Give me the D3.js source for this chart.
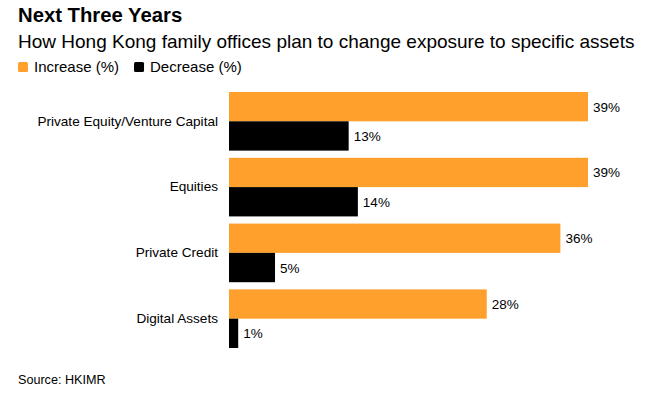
<!DOCTYPE html>
<html><head><meta charset="utf-8">
<script src="https://cdn.jsdelivr.net/npm/d3@7"></script>
<style>body{margin:0;background:#fff;font-family:"Liberation Sans",Arial,sans-serif;}</style>
</head><body>
<svg id="c" width="655" height="396"></svg>
<script>
const categories = ["Private Equity/Venture Capital","Equities","Private Credit","Digital Assets"];
const increase = [39,39,36,28];
const decrease = [13,14,5,1];
const seriesNames = ["Increase (%)","Decrease (%)"];
const colors = ["#ffa02c","#000000"];

const svg = d3.select("#c");
svg.append("text").attr("x",18).attr("y",22).attr("font-size",20.3).attr("font-weight","bold").attr("fill","#000").text("Next Three Years");
svg.append("text").attr("x",18).attr("y",48).attr("font-size",19).attr("fill","#000").text("How Hong Kong family offices plan to change exposure to specific assets");

const leg = svg.append("g");
let lx = 18;
seriesNames.forEach((n,i)=>{
  leg.append("rect").attr("x",lx).attr("y",62).attr("width",10).attr("height",10).attr("rx",1.5).attr("fill",colors[i]);
  const t = leg.append("text").attr("x",lx+16).attr("y",72).attr("font-size",15).attr("fill","#000").text(n);
  lx += 16 + t.node().getComputedTextLength() + 15;
});

const x = d3.scaleLinear().domain([0,39]).range([229,588]);
const y = d3.scaleBand().domain(categories).range([92,348]).paddingInner(0.109).paddingOuter(0);
const sub = d3.scaleBand().domain(["inc","dec"]).range([0,y.bandwidth()]);

const data = categories.map((c,i)=>({c, vals:[{k:"inc",v:increase[i],col:colors[0]},{k:"dec",v:decrease[i],col:colors[1]}]}));
const g = svg.append("g");
const grp = g.selectAll("g").data(data).join("g").attr("transform",d=>`translate(0,${y(d.c)})`);
grp.selectAll("rect").data(d=>d.vals).join("rect")
  .attr("x",x(0)).attr("y",d=>sub(d.k)).attr("width",d=>x(d.v)-x(0)).attr("height",sub.bandwidth()).attr("fill",d=>d.col);
grp.selectAll("text.v").data(d=>d.vals).join("text").attr("class","v")
  .attr("x",d=>x(d.v)+5).attr("y",d=>sub(d.k)+sub.bandwidth()/2+5).attr("font-size",13.5).attr("fill","#000").text(d=>d.v+"%");

const yAxis = d3.axisLeft(y).tickSize(0).tickPadding(11);
const ax = svg.append("g").attr("transform",`translate(${x(0)},0)`).call(yAxis);
ax.select(".domain").remove();
ax.selectAll("text").attr("font-size",13.6).attr("font-family","Liberation Sans, Arial, sans-serif").attr("fill","#000");

svg.append("text").attr("x",18).attr("y",384).attr("font-size",12.6).attr("fill","#000").text("Source: HKIMR");
</script>
</body></html>
